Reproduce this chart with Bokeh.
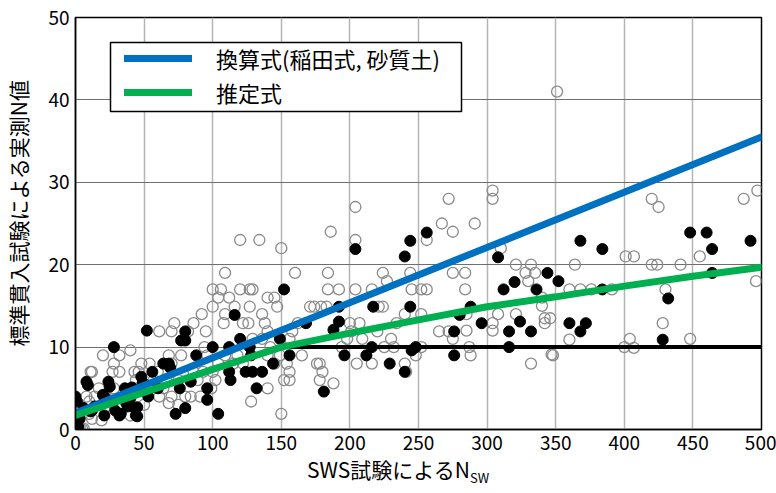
from bokeh.plotting import figure
from bokeh.models import Range1d, Legend, LegendItem, FixedTicker, BoxAnnotation, Div
from bokeh.layouts import column
from bokeh.embed import file_html
from bokeh.resources import INLINE

# ---- data ----
open_x = [304,304,272,267,275,291,351,310,321,332,328,335,330,340,340,342,342,321,308,304,304,332,348,360,364,360,368,376,391,401,407,404,400,407,420,425,420,424,441,455,448,428,430,487,497,496,346,347,
          204,204,186,150,120,134,160,184,224,227,244,245,252,256,256,275,284,284,285,285,287,288,275,272,265,252,240,234,224,221,216,204,192,184,183,179,171,174,162,158,165,156,154,156,152,156,150,178,188,178,176,180,194,198,201,200,207,209,205,216,220,225,232,230,240,241,248,252,
          109,100,106,104,112,120,127,129,116,127,100,92,108,109,122,126,136,138,140,145,147,140,129,136,95,94,96,86,72,70,61,82,68,77,70,54,48,40,32,20,27,32,11,12,28,43,46,57,60,66,70,61,64,75,86,89,93,100,102,104,109,115,118,122,140,128,140,142,145,149,50,43,39,28,22,17,14,10,8,5,5,6,3,10,12,19,21,32,40,80,84,91,99,75,68,54,44]
open_y = [29,28,28,25,24,25,41,22,20,20,19,19,18,16,15,13.5,12.9,14,14,12,12.9,8,9,10.9,20,17,17,17,17,21,21,11,10,9.9,28,27,20,20,20,21,11,12.9,17,28,29,18,13.5,9.1,
          27,23,24,22,23,23,19,19,19,18,19,17,17,17,23,19,19,17,14,12,10,9,11,11.9,11.9,14,14,12.9,14.9,14.9,17,17,17,17,14.9,14.9,14.9,14.9,12.9,11.9,9,11,8,7,6,6,1.9,6,5.6,8,8,7,10,11,11.9,12.9,12.9,11,8,8,11.9,10,10,11,8,7,9,10,
          19,17,17,16,16,17,17,17,14.9,14.9,14.9,14,12.9,14,12.9,12.9,14,12.9,16,16,14.9,11.9,11,11,11.9,10,9,12.9,12.9,11.9,11.9,11.9,9,9,8,8,8,9.6,9,9,7,7,7,7,8,7,7,6,7,6,4,4,5,6,7,6,7,7,6,8,9,8,9,8,5,3.4,9,10,8,9,3,5,4,5,4,5,4,3.4,4,2.6,0,0.1,0.3,1.9,1.3,1.1,2.6,3,1.7,4,4,4,5,3,3.2,5,6]

filled_x = [0,1,1,3,8,9,12,14,20,21,24,25,28,29,32,36,37,40,44,43,48,52,53,56,60,64,68,73,76,77,80,80,80,84,88,96,96,100,104,112,112,113,116,120,124,127,128,129,132,136,144,149,152,156,168,181,188,192,192,196,204,212,216,217,229,240,240,244,244,245,248,256,276,276,280,288,296,308,312,316,316,320,324,332,336,344,352,360,368,368,372,384,384,428,432,448,460,464,464,492,
            6,11,33,38,45,45,21,41,49,69,2]
filled_y = [4,3.4,0.7,1.3,5.8,5.4,2.3,2.8,4.2,1.7,5.8,5.2,10,2.3,1.7,5,3.2,3.8,1.7,2.6,6.4,12,4,7,5,8,8,1.9,5,10.8,11.9,10.8,2.6,5.8,9,5,3.6,10,1.9,10,7,6,13.9,11,7,10,9,7,5,7,8,11,17,9,12.9,4.6,12.1,13.1,14.9,9,21.9,9,10,14.9,8,21,7,22.9,14.9,9.6,10,23.9,11.9,9,13.9,14.9,12.9,20.9,17,11.9,10,17.9,13.1,11.9,17,19,18,12.9,22.9,11.9,12.9,21.9,17,10.9,15.9,23.9,23.9,21.9,19,22.9,
            2.6,2.2,1.9,2.8,2.7,1.6,4,5.1,5.7,7.5,0.3]

blue_x = [0, 500]
blue_y = [2.0, 35.5]
green_x = [0, 50, 100, 150, 200, 250, 300, 350, 400, 450, 500]
green_y = [1.7, 4.5, 7.3, 10.0, 11.7, 13.3, 14.9, 16.1, 17.4, 18.6, 19.7]
black_x = [150, 500]
black_y = [10, 10]

x_ticks = [0, 50, 100, 150, 200, 250, 300, 350, 400, 450, 500]
y_ticks = [0, 10, 20, 30, 40, 50]
legend_labels = ["換算式(稲田式, 砂質土)", "推定式"]
x_title = "SWS試験によるN"
x_title_sub = "SW"
y_title = "標準貫入試験による実測N値"

JP = "Noto Sans CJK JP"

p = figure(frame_width=686, frame_height=412, output_backend="svg", toolbar_location=None,
           x_range=Range1d(0, 500), y_range=Range1d(0, 50),
           min_border_left=75, min_border_right=15, min_border_top=17, min_border_bottom=34)
p.background_fill_color = "white"
p.border_fill_color = "white"
p.outline_line_color = "black"
p.outline_line_width = 1.5

p.xaxis.ticker = FixedTicker(ticks=x_ticks)
p.yaxis.ticker = FixedTicker(ticks=y_ticks)
for ax in (p.xaxis[0], p.yaxis[0]):
    ax.major_tick_out = 0
    ax.major_tick_in = 0
    ax.minor_tick_out = 0
    ax.minor_tick_in = 0
    ax.axis_line_color = "black"
    ax.axis_line_width = 1.5
    ax.major_label_text_font = JP
    ax.major_label_text_font_size = "19px"
    ax.major_label_text_color = "black"
p.xaxis.major_label_standoff = 6
p.yaxis.major_label_standoff = 6
p.yaxis.axis_label = "\u3000" + y_title
p.yaxis.axis_label_text_font = JP
p.yaxis.axis_label_text_font_size = "21px"
p.yaxis.axis_label_text_font_style = "normal"
p.yaxis.axis_label_text_color = "black"
p.yaxis.axis_label_standoff = 12

p.xgrid.grid_line_color = "#b4b4b4"
p.xgrid.grid_line_width = 1.5
p.ygrid.grid_line_color = "#6e6e6e"
p.ygrid.grid_line_width = 1

p.scatter(open_x, open_y, marker="circle", size=11, fill_color=None,
          line_color="#8a8a8a", line_width=1.3)
p.scatter(filled_x, filled_y, marker="circle", size=11, fill_color="black",
          line_color="black", line_width=1)

r_black = p.line(black_x, black_y, line_color="black", line_width=4)
r_blue = p.line(blue_x, blue_y, line_color="#0070C0", line_width=7, line_cap="round")
r_green = p.line(green_x, green_y, line_color="#00B050", line_width=7, line_cap="round")

# legend frame (screen units relative to the plot frame)
box = BoxAnnotation(left=35, right=386, bottom=318, top=387,
                    left_units="screen", right_units="screen",
                    bottom_units="screen", top_units="screen",
                    fill_color="white", fill_alpha=1, line_color="black", line_width=1.5,
                    line_alpha=1)
p.add_layout(box)

legend = Legend(items=[LegendItem(label=legend_labels[0], renderers=[r_blue]),
                       LegendItem(label=legend_labels[1], renderers=[r_green])],
                location=(49, 321), orientation="vertical")
legend.label_text_font = JP
legend.label_text_font_size = "22px"
legend.label_text_color = "black"
legend.glyph_width = 68
legend.glyph_height = 20
legend.label_standoff = 24
legend.padding = 4
legend.spacing = 2
legend.margin = 0
legend.border_line_color = None
legend.background_fill_alpha = 0
p.add_layout(legend, "center")

xlab = Div(text=f'{x_title}<sub style="font-size:13px">{x_title_sub}</sub>',
           width=776, height=28, margin=(0, 0, 0, 0),
           styles={"font-family": JP, "font-size": "21px", "line-height": "12px",
                   "padding-left": "307px", "color": "black"})

layout = column(p, xlab, spacing=0)
open("out.html", "w").write(file_html(layout, INLINE))
